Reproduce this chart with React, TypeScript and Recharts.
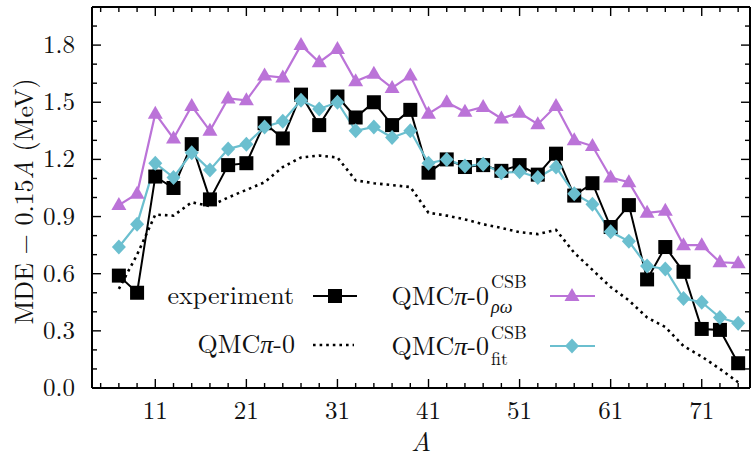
import { LineChart, Line, XAxis, YAxis, Customized } from "recharts";

// mass number A (odd nuclei)
const massNumbers = [7, 9, 11, 13, 15, 17, 19, 21, 23, 25, 27, 29, 31, 33, 35, 37, 39, 41, 43, 45, 47, 49, 51, 53, 55, 57, 59, 61, 63, 65, 67, 69, 71, 73, 75];

// MDE - 0.15A in MeV
const experiment = [0.59, 0.5, 1.11, 1.05, 1.28, 0.99, 1.17, 1.18, 1.39, 1.31, 1.54, 1.38, 1.53, 1.42, 1.5, 1.38, 1.46, 1.13, 1.2, 1.16, 1.17, 1.14, 1.17, 1.12, 1.23, 1.01, 1.075, 0.845, 0.96, 0.57, 0.74, 0.61, 0.31, 0.305, 0.13];
const qmcRhoOmega = [0.96, 1.02, 1.44, 1.31, 1.48, 1.35, 1.52, 1.51, 1.64, 1.63, 1.8, 1.71, 1.78, 1.61, 1.65, 1.575, 1.64, 1.44, 1.5, 1.45, 1.475, 1.415, 1.445, 1.385, 1.48, 1.3, 1.27, 1.105, 1.08, 0.92, 0.93, 0.75, 0.75, 0.66, 0.655];
const qmcFit = [0.74, 0.86, 1.18, 1.105, 1.235, 1.145, 1.255, 1.28, 1.37, 1.4, 1.51, 1.465, 1.5, 1.35, 1.37, 1.315, 1.35, 1.18, 1.2, 1.165, 1.175, 1.13, 1.135, 1.105, 1.16, 1.02, 0.965, 0.82, 0.77, 0.64, 0.625, 0.47, 0.45, 0.37, 0.34];
const qmcNoCsb = [0.52, 0.7, 0.91, 0.905, 0.975, 0.955, 1.0, 1.04, 1.08, 1.16, 1.21, 1.22, 1.21, 1.09, 1.075, 1.065, 1.055, 0.92, 0.905, 0.885, 0.86, 0.84, 0.818, 0.808, 0.83, 0.71, 0.62, 0.53, 0.46, 0.37, 0.32, 0.22, 0.165, 0.1, 0.03];

const xTicks = [5, 7, 9, 11, 13, 15, 17, 19, 21, 23, 25, 27, 29, 31, 33, 35, 37, 39, 41, 43, 45, 47, 49, 51, 53, 55, 57, 59, 61, 63, 65, 67, 69, 71, 73, 75];
const xLabels = [11, 21, 31, 41, 51, 61, 71];
const yTicks = [0, 0.1, 0.2, 0.3, 0.4, 0.5, 0.6, 0.7, 0.8, 0.9, 1.0, 1.1, 1.2, 1.3, 1.4, 1.5, 1.6, 1.7, 1.8, 1.9];
const yLabels = [0, 0.3, 0.6, 0.9, 1.2, 1.5, 1.8];

const SERIF = { fontFamily: "Latin Modern Roman" };
const PURPLE = "#bb73d8";
const CYAN = "#6bbfcf";
const TXT = "#111";

const rows = massNumbers.map((A, i) => ({
  A,
  exp: experiment[i],
  rho: qmcRhoOmega[i],
  fit: qmcFit[i],
  qmc: qmcNoCsb[i],
}));

const isXMajor = (v: number) => xLabels.includes(v);
const isYMajor = (v: number) => yLabels.some((l) => Math.abs(l - v) < 1e-6);

const BottomTick = ({ x, y, payload }: any) => {
  const v = payload.value;
  const major = isXMajor(v);
  return (
    <g>
      <line x1={x} x2={x} y1={y} y2={y - (major ? 9 : 5)} stroke="#000" strokeWidth={1.4} />
      {major && (
        <text x={x} y={y + 31} textAnchor="middle" fontSize={25} style={SERIF} fill={TXT}>
          {v}
        </text>
      )}
    </g>
  );
};

const TopTick = ({ x, y, payload }: any) => (
  <line x1={x} x2={x} y1={y} y2={y + (isXMajor(payload.value) ? 9 : 5)} stroke="#000" strokeWidth={1.4} />
);

const LeftTick = ({ x, y, payload }: any) => {
  const v = payload.value;
  const major = isYMajor(v);
  return (
    <g>
      <line x1={x} x2={x + (major ? 9 : 5)} y1={y} y2={y} stroke="#000" strokeWidth={1.4} />
      {major && (
        <text x={x - 17} y={y + 8} textAnchor="end" fontSize={25} style={SERIF} fill={TXT}>
          {v.toFixed(1)}
        </text>
      )}
    </g>
  );
};

const RightTick = ({ x, y, payload }: any) => (
  <line x1={x} x2={x - (isYMajor(payload.value) ? 9 : 5)} y1={y} y2={y} stroke="#000" strokeWidth={1.4} />
);

const SquareDot = (p: any) =>
  p.cx == null ? <g key={p.index} /> : <rect key={p.index} x={p.cx - 7} y={p.cy - 7} width={14} height={14} fill="#000" />;

const TriangleDot = (p: any) =>
  p.cx == null ? (
    <g key={p.index} />
  ) : (
    <polygon key={p.index} points={`${p.cx},${p.cy - 8} ${p.cx + 7.5},${p.cy + 5} ${p.cx - 7.5},${p.cy + 5}`} fill={PURPLE} />
  );

const DiamondDot = (p: any) =>
  p.cx == null ? (
    <g key={p.index} />
  ) : (
    <polygon key={p.index} points={`${p.cx},${p.cy - 7.5} ${p.cx + 7},${p.cy} ${p.cx},${p.cy + 7.5} ${p.cx - 7},${p.cy}`} fill={CYAN} />
  );

const QmcName = () => (
  <>
    QMC<tspan fontStyle="italic">π</tspan>-0
  </>
);

// key box, gnuplot style: text right-justified before the sample
const LegendLayer = () => (
  <g style={SERIF} fill={TXT}>
    <text x={294} y={304} textAnchor="end" fontSize={26}>experiment</text>
    <line x1={313} x2={357} y1={296} y2={296} stroke="#000" strokeWidth={2} />
    <rect x={328} y={289} width={14} height={14} fill="#000" />

    <text x={295} y={353} textAnchor="end" fontSize={26}>
      <QmcName />
    </text>
    <line x1={313} x2={354} y1={345} y2={345} stroke="#000" strokeWidth={2.6} strokeDasharray="2.6 4" />

    <text x={489} y={305} textAnchor="end" fontSize={26}>
      <QmcName />
    </text>
    <text x={491} y={288} fontSize={18}>CSB</text>
    <text x={491} y={313} fontSize={18} fontStyle="italic">ρω</text>
    <line x1={550} x2={595} y1={296} y2={296} stroke={PURPLE} strokeWidth={2.2} />
    <polygon points="572,288 579.5,301 564.5,301" fill={PURPLE} />

    <text x={489} y={355} textAnchor="end" fontSize={26}>
      <QmcName />
    </text>
    <text x={491} y={339} fontSize={18}>CSB</text>
    <text x={491} y={365} fontSize={18}>fit</text>
    <line x1={550} x2={595} y1={346} y2={346} stroke={CYAN} strokeWidth={2.2} />
    <polygon points="572,338.5 579,346 572,353.5 565,346" fill={CYAN} />
  </g>
);

const XTitle = ({ viewBox }: any) => (
  <text x={viewBox.x + viewBox.width / 2} y={451} textAnchor="middle" fontSize={27} style={SERIF} fontStyle="italic" fill={TXT}>
    A
  </text>
);

const YTitle = ({ viewBox }: any) => {
  const cx = 22;
  const cy = viewBox.y + viewBox.height / 2 + 4;
  return (
    <text x={cx} y={cy} transform={`rotate(-90 ${cx} ${cy})`} textAnchor="middle" dominantBaseline="central" fontSize={26} style={SERIF} fill={TXT}>
      MDE − 0.15<tspan fontStyle="italic">A</tspan> (MeV)
    </text>
  );
};

export default function App() {
  return (
    <div style={{ position: "absolute", left: 0, top: 0, width: 751, height: 458, background: "#fff" }}>
      <LineChart width={751} height={458} data={rows} margin={{ top: 0, right: 0, bottom: 0, left: 0 }}>
        <XAxis
          dataKey="A"
          type="number"
          domain={[4.05, 76.3]}
          allowDataOverflow
          ticks={xTicks}
          interval={0}
          height={70}
          tickSize={0}
          tickMargin={0}
          tickLine={false}
          axisLine={{ stroke: "#000", strokeWidth: 2 }}
          tick={<BottomTick />}
          label={<XTitle />}
        />
        <XAxis
          xAxisId="top"
          orientation="top"
          dataKey="A"
          type="number"
          domain={[4.05, 76.3]}
          allowDataOverflow
          ticks={xTicks}
          interval={0}
          height={7}
          tickSize={0}
          tickMargin={0}
          tickLine={false}
          axisLine={{ stroke: "#000", strokeWidth: 2 }}
          tick={<TopTick />}
        />
        <YAxis
          type="number"
          domain={[0, 2.0]}
          allowDataOverflow
          ticks={yTicks}
          interval={0}
          width={92}
          tickSize={0}
          tickMargin={0}
          tickLine={false}
          axisLine={{ stroke: "#000", strokeWidth: 2 }}
          tick={<LeftTick />}
          label={<YTitle />}
        />
        <YAxis
          yAxisId="right"
          orientation="right"
          type="number"
          domain={[0, 2.0]}
          allowDataOverflow
          ticks={yTicks}
          interval={0}
          width={1}
          tickSize={0}
          tickMargin={0}
          tickLine={false}
          axisLine={{ stroke: "#000", strokeWidth: 2 }}
          tick={<RightTick />}
        />
        <Line dataKey="qmc" stroke="#000" strokeWidth={2.6} strokeDasharray="2.6 4" dot={false} isAnimationActive={false} />
        <Line dataKey="exp" stroke="#000" strokeWidth={2} dot={SquareDot} activeDot={false} isAnimationActive={false} />
        <Line dataKey="rho" stroke={PURPLE} strokeWidth={2.2} dot={TriangleDot} activeDot={false} isAnimationActive={false} />
        <Line dataKey="fit" stroke={CYAN} strokeWidth={2.2} dot={DiamondDot} activeDot={false} isAnimationActive={false} />
        <Customized component={LegendLayer} />
      </LineChart>
    </div>
  );
}
